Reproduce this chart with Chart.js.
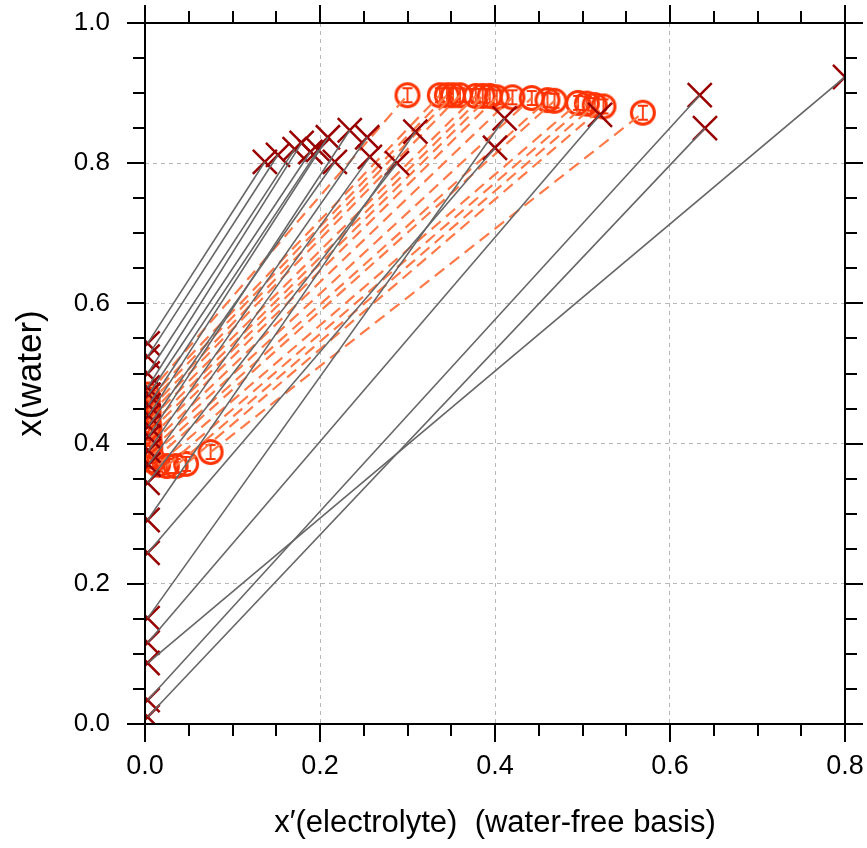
<!DOCTYPE html>
<html>
<head>
<meta charset="utf-8">
<script src="https://cdn.jsdelivr.net/npm/chart.js@4.4.1/dist/chart.umd.min.js"></script>
<style>
html,body{margin:0;padding:0;background:#fff;}
#wrap{width:867px;height:848px;}
</style>
</head>
<body>
<div id="wrap"><canvas id="c" width="867" height="848"></canvas></div>
<script>
// ---- Experimental tie lines (dark-red crosses, grey lines) ----
const expLeftX  = [0.003,0.003,0.003,0.003,0.004,0.004,0.004,0.004,0.004,0.004,0.004,0.003,0.003,0.003,0.003,0.003,0.003,0.003,0.003];
const expLeftY  = [0.543,0.524,0.500,0.480,0.470,0.455,0.440,0.425,0.410,0.390,0.370,0.344,0.291,0.244,0.151,0.116,0.034,0.010,0.087];
const expRightX = [0.137,0.152,0.171,0.179,0.189,0.198,0.209,0.217,0.234,0.254,0.257,0.288,0.309,0.400,0.411,0.520,0.634,0.640,0.800];
const expRightY = [0.802,0.812,0.820,0.829,0.816,0.819,0.837,0.802,0.847,0.837,0.809,0.800,0.845,0.822,0.864,0.869,0.897,0.850,0.923];

// ---- Model tie lines (orange circles, dashed lines) ----
const modLeftX  = [0.003,0.003,0.003,0.004,0.004,0.004,0.005,0.005,0.005,0.006,0.006,0.007,0.009,0.015,0.025,0.035,0.047,0.075];
const modLeftY  = [0.470,0.462,0.455,0.447,0.440,0.432,0.424,0.416,0.407,0.398,0.390,0.382,0.375,0.370,0.368,0.368,0.371,0.388];
const modRightX = [0.300,0.337,0.345,0.352,0.360,0.378,0.386,0.394,0.402,0.420,0.442,0.460,0.468,0.495,0.505,0.514,0.524,0.569];
const modRightY = [0.897,0.897,0.897,0.897,0.897,0.896,0.896,0.896,0.894,0.894,0.893,0.890,0.889,0.886,0.885,0.883,0.881,0.872];

// ---- Axes ----
const xMin = 0, xMax = 0.8, yMin = 0, yMax = 1.0;
const xMajor = [0.0,0.2,0.4,0.6,0.8];
const yMajor = [0.0,0.2,0.4,0.6,0.8,1.0];
const minorStep = 0.05;
const xTitle = "x\u2032(electrolyte)  (water-free basis)";
const yTitle = "x(water)";

const C_EXP = '#990000';
const C_TIE = '#666666';
const C_MOD = '#ff3300';
const C_DASH = '#ff7a48';

// circle marker with error bar "I"
function makeCircleStyle(){
  const s = 32, cv = document.createElement('canvas');
  cv.width = s; cv.height = s;
  const g = cv.getContext('2d');
  g.strokeStyle = C_MOD; g.lineWidth = 3;
  g.beginPath(); g.arc(s/2, s/2, 11.5, 0, Math.PI*2); g.stroke();
  g.lineWidth = 1.8;
  g.beginPath();
  g.moveTo(s/2, s/2-7); g.lineTo(s/2, s/2+7);
  g.moveTo(s/2-5, s/2-7); g.lineTo(s/2+5, s/2-7);
  g.moveTo(s/2-5, s/2+7); g.lineTo(s/2+5, s/2+7);
  g.stroke();
  return cv;
}
const circleStyle = makeCircleStyle();

const datasets = [];
// grey tie lines (top)
for (let i=0;i<expLeftX.length;i++){
  datasets.push({
    data:[{x:expLeftX[i],y:expLeftY[i]},{x:expRightX[i],y:expRightY[i]}],
    showLine:true, borderColor:C_TIE, borderWidth:1.6, pointRadius:0, order:0, clip:0
  });
}
// crosses
datasets.push({
  data: expLeftX.map((v,i)=>({x:v,y:expLeftY[i]})).concat(expRightX.map((v,i)=>({x:v,y:expRightY[i]}))),
  showLine:false, pointStyle:'crossRot', pointRadius:17, pointBorderWidth:2.5,
  borderColor:C_EXP, backgroundColor:C_EXP, order:1, clip:0
});
// dashed model tie lines
for (let i=0;i<modLeftX.length;i++){
  datasets.push({
    data:[{x:modLeftX[i],y:modLeftY[i]},{x:modRightX[i],y:modRightY[i]}],
    showLine:true, borderColor:C_DASH, borderWidth:2.2, borderDash:[12,7], pointRadius:0, order:2, clip:0
  });
}
// circles
datasets.push({
  data: modLeftX.map((v,i)=>({x:v,y:modLeftY[i]})).concat(modRightX.map((v,i)=>({x:v,y:modRightY[i]}))),
  showLine:false, pointStyle:circleStyle, pointRadius:16, order:3, clip:0
});

const framePlugin = {
  id:'frame',
  afterDraw(chart){
    const {ctx, chartArea:a, scales} = chart;
    const xs = scales.x, ys = scales.y;
    ctx.save();
    ctx.strokeStyle = '#000'; ctx.lineWidth = 2;
    ctx.beginPath();
    ctx.rect(a.left, a.top, a.right-a.left, a.bottom-a.top);
    ctx.stroke();
    const MAJ = 18, MIN = 12;
    ctx.beginPath();
    const nx = Math.round((xMax-xMin)/minorStep);
    for (let k=0;k<=nx;k++){
      const v = xMin + k*minorStep;
      const isMaj = xMajor.some(m=>Math.abs(m-v)<1e-9);
      const L = isMaj?MAJ:MIN;
      const px = Math.round(xs.getPixelForValue(v));
      ctx.moveTo(px, a.bottom); ctx.lineTo(px, a.bottom+L);
      ctx.moveTo(px, a.top); ctx.lineTo(px, a.top-L);
    }
    const ny = Math.round((yMax-yMin)/minorStep);
    for (let k=0;k<=ny;k++){
      const v = yMin + k*minorStep;
      const isMaj = yMajor.some(m=>Math.abs(m-v)<1e-9);
      const L = isMaj?MAJ:MIN;
      const py = Math.round(ys.getPixelForValue(v));
      ctx.moveTo(a.left, py); ctx.lineTo(a.left-L, py);
      ctx.moveTo(a.right, py); ctx.lineTo(a.right+L, py);
    }
    ctx.stroke();
    ctx.restore();
  }
};

const gridColor = (ctx, lo, hi) => {
  const v = ctx.tick ? ctx.tick.value : null;
  if (v === null || Math.abs(v-lo)<1e-9 || Math.abs(v-hi)<1e-9) return 'rgba(0,0,0,0)';
  return '#b8b8b8';
};

new Chart(document.getElementById('c'), {
  type:'scatter',
  data:{datasets},
  options:{
    responsive:false, animation:false, devicePixelRatio:1,
    layout:{autoPadding:false, padding:{left:0,right:22,top:23,bottom:0}},
    plugins:{legend:{display:false}, tooltip:{enabled:false}},
    scales:{
      x:{
        type:'linear', min:xMin, max:xMax, position:'bottom',
        afterBuildTicks(s){ s.ticks = xMajor.map(v=>({value:v})); },
        ticks:{callback:v=>v.toFixed(1), color:'#000', padding:26,
               font:{family:'"Liberation Sans Narrow", "Liberation Sans", Arial, sans-serif', size:27}},
        grid:{drawTicks:false, color:c=>gridColor(c,xMin,xMax), lineWidth:1},
        border:{display:false, dash:[4,4]},
        title:{display:true, text:xTitle, color:'#000', padding:{top:0,bottom:6},
               font:{family:'"Liberation Sans Narrow", "Liberation Sans", Arial, sans-serif', size:31}},
        afterFit(s){ s.height = 124; s.paddingLeft = 0; s.paddingRight = 0; s.paddingTop = 0; s.paddingBottom = 0; }
      },
      y:{
        type:'linear', min:yMin, max:yMax, position:'left',
        afterBuildTicks(s){ s.ticks = yMajor.map(v=>({value:v})); },
        ticks:{callback:v=>v.toFixed(1), color:'#000', padding:35,
               font:{family:'"Liberation Sans", Arial, sans-serif', size:26}},
        grid:{drawTicks:false, color:c=>gridColor(c,yMin,yMax), lineWidth:1},
        border:{display:false, dash:[4,4]},
        title:{display:true, text:yTitle, color:'#000', padding:{top:10,bottom:0},
               font:{family:'"Liberation Sans", Arial, sans-serif', size:35}},
        afterFit(s){ s.width = 145; s.paddingLeft = 0; s.paddingRight = 0; s.paddingTop = 0; s.paddingBottom = 0; }
      }
    }
  },
  plugins:[framePlugin]
});
</script>
</body>
</html>
